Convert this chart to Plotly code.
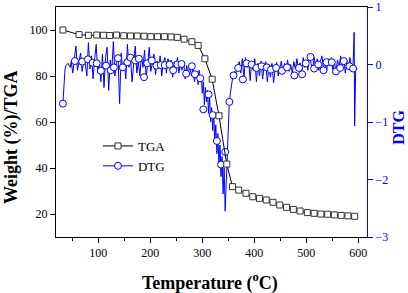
import plotly.graph_objects as go

# ---------------- data ----------------
tga_T = [32, 63, 81, 97, 110, 122, 135, 149, 162, 175, 188, 201, 214, 227, 240, 252,
         265, 280, 292, 305, 319, 332, 347, 358, 370, 384, 397, 410, 423, 436, 449,
         462, 475, 488, 502, 515, 528, 541, 554, 567, 580, 593]
tga_w = [100.0, 98.0, 97.7, 97.8, 97.7, 97.6, 97.8, 97.5, 97.4, 97.4, 97.3, 97.1, 97.1,
         97.1, 97.0, 96.8, 96.0, 94.9, 93.3, 87.5, 78.6, 62.7, 41.7, 31.9, 30.4, 29.0,
         27.5, 26.8, 26.1, 25.1, 23.9, 22.9, 22.0, 21.3, 20.6, 20.3, 20.0, 19.9, 19.6,
         19.4, 19.2, 19.0]

dtg_T = [32, 34, 36, 38, 40, 42, 44, 46,
         48, 51, 54, 57, 60, 63, 66, 69, 72, 75, 78, 81, 84, 87, 90, 93, 96, 99, 102,
         105, 108, 111, 114, 117, 120, 123, 126, 129, 132, 135, 138, 141, 144, 147, 150,
         153, 156, 159, 162, 165, 168, 171, 174, 177, 180, 183, 186, 189, 192, 195, 198,
         201, 204, 207, 210, 213, 216, 219, 222, 225, 228, 231, 234, 237, 240, 243, 246,
         249, 252, 255, 258, 261, 264, 267, 270, 273, 276, 279, 282, 285, 288,
         290, 292, 294, 296, 298, 300, 302, 304, 306, 308, 310, 312, 314, 316, 318, 320,
         322, 324, 326, 328, 330, 332, 334, 336, 338, 340, 342, 344, 346, 348, 350, 352,
         354, 356, 358, 360, 362, 364, 366, 368,
         371, 374, 377, 380, 383, 386, 389, 392, 395, 398, 401, 404, 407, 410, 413, 416,
         419, 422, 425, 428, 431, 434, 437, 440, 443, 446, 449, 452, 455, 458, 461, 464,
         467, 470, 473, 476, 479, 482, 485, 488, 491, 494, 497, 500, 503, 506, 509, 512,
         515, 518, 521, 524, 527, 530, 533, 536, 539, 542, 545, 548, 551, 554, 557, 560,
         563, 566, 569, 572, 575, 578, 581, 584, 587, 590, 592, 593, 595, 598]
dtg_v = [-0.68, -0.35, -0.08, -0.02, 0.00, 0.02, -0.02, -0.05,
         0.05, -0.15, 0.10, 0.32, -0.10, 0.05, 0.20, -0.12, 0.08, 0.02, -0.20, 0.38,
         -0.08, 0.15, -0.25, 0.10, 0.35, -0.15, 0.05, -0.30, 0.18, -0.40, 0.12, 0.30,
         -0.45, 0.08, -0.10, 0.40, -0.20, 0.05, 0.15, -0.68, 0.20, -0.10, 0.05, -0.25,
         0.35, -0.05, 0.12, -0.30, 0.10, 0.32, -0.15, 0.05, -0.20, 0.15, -0.05, 0.25,
         -0.25, 0.08, 0.30, -0.12, 0.02, 0.18, -0.18, 0.06, -0.05, 0.15, -0.20, 0.04,
         0.12, -0.15, 0.10, -0.05, 0.08, -0.22, 0.05, -0.08, 0.12, -0.15, 0.02, -0.10,
         0.06, -0.25, -0.02, -0.18, 0.00, -0.20, -0.08, -0.30, -0.12,
         -0.15, -0.35, -0.10, -0.30, -0.20, -0.50, -0.30, -0.70, -0.40, -0.65, -0.45,
         -0.85, -0.55, -1.00, -0.75, -1.15, -0.85, -1.35, -1.05, -1.55, -1.20, -1.75,
         -1.40, -1.95, -1.60, -2.25, -1.80, -2.55, -2.00, -1.60, -1.05, -0.65, -0.50,
         -0.35, -0.25, -0.19, -0.12, -0.20, -0.08, -0.05,
         0.05, -0.15, 0.10, -0.25, 0.12, -0.05, 0.08, -0.28, 0.05, -0.10, 0.10, -0.30,
         0.02, -0.20, 0.06, -0.25, -0.02, 0.05, -0.30, -0.05, -0.22, 0.02, -0.32, -0.08,
         0.04, -0.20, -0.05, 0.06, -0.15, 0.02, -0.10, 0.08, -0.12, 0.00, -0.15, 0.05,
         -0.08, 0.10, -0.10, 0.03, -0.14, 0.12, -0.05, 0.08, -0.10, 0.18, 0.02, -0.08,
         0.12, -0.05, 0.10, -0.10, 0.05, 0.15, -0.08, 0.08, -0.12, 0.10, -0.02, 0.12,
         -0.10, 0.05, -0.12, 0.08, -0.05, 0.15, -0.02, 0.10, -0.15, 0.05, -0.05, 0.12,
         -0.08, 0.02, 0.56, -1.07, -0.05, -0.08]

dtg_mark_T = [32, 55, 69, 80, 89, 97, 105, 115, 124, 130, 138, 147, 156, 162, 171, 178,
              188, 194, 203, 212, 220, 228, 237, 244, 252, 260, 269, 280, 286, 296, 302,
              312, 320, 328, 336, 344, 352, 360, 369, 378, 385, 395, 404, 414, 424, 432,
              442, 453, 463, 477, 486, 492, 499, 508, 515, 523, 533, 539, 549, 557, 565,
              572, 583, 590]
dtg_mark_v = [-0.68, 0.06, 0.05, 0.09, 0.03, 0.02, -0.11, -0.02, -0.10, -0.05, 0.11, -0.05,
              0.04, 0.12, 0.07, 0.10, -0.22, 0.02, 0.07, -0.02, -0.01, -0.01, 0.00, -0.10,
              0.00, 0.01, -0.16, -0.03, -0.17, -0.24, -0.78, -0.52, -0.88, -1.33, -1.74,
              -1.52, -0.65, -0.19, -0.06, -0.26, 0.02, 0.00, -0.06, -0.03, -0.05, -0.09,
              -0.06, -0.11, -0.05, -0.19, -0.06, -0.17, 0.02, 0.13, -0.07, 0.00, -0.10,
              0.04, 0.04, -0.12, -0.06, 0.06, -0.03, -0.07]

x_ticks = [100, 200, 300, 400, 500, 600]
w_ticks = [20, 40, 60, 80, 100]
d_ticks = [-3, -2, -1, 0, 1]

BLUE = "#0000FF"
FONT = "Liberation Serif"

fig = go.Figure()

# DTG on base axis (drawn underneath), TGA on overlaying axis (drawn on top)
fig.add_trace(go.Scatter(x=dtg_T, y=dtg_v, mode="lines", line=dict(color=BLUE, width=1),
                         yaxis="y", showlegend=False, hoverinfo="skip"))
fig.add_trace(go.Scatter(x=dtg_mark_T, y=dtg_mark_v, mode="markers",
                         marker=dict(symbol="circle", size=7, color="white",
                                     line=dict(color=BLUE, width=1)),
                         yaxis="y", showlegend=False))
fig.add_trace(go.Scatter(x=tga_T, y=tga_w, mode="lines+markers", name="TGA",
                         line=dict(color="black", width=1),
                         marker=dict(symbol="square", size=6, color="white",
                                     line=dict(color="#333333", width=1)),
                         yaxis="y2", legendrank=1))
fig.add_trace(go.Scatter(x=[None], y=[None], mode="lines+markers", name="DTG",
                         line=dict(color=BLUE, width=1),
                         marker=dict(symbol="circle", size=7, color="white",
                                     line=dict(color=BLUE, width=1)),
                         yaxis="y", legendrank=2))

fig.update_layout(
    width=408, height=293,
    margin=dict(l=56, r=41, t=7, b=56, autoexpand=False),
    plot_bgcolor="white", paper_bgcolor="white",
    font=dict(family=FONT, size=12, color="black"),
    xaxis=dict(range=[18.7, 616.7], tickvals=x_ticks, ticks="outside", ticklen=5,
               tickwidth=1, tickcolor="black", showline=True, linecolor="black",
               linewidth=1, mirror=True, showgrid=False, zeroline=False,
               minor=dict(ticks="outside", ticklen=3, dtick=50, tick0=0,
                          tickcolor="black", showgrid=False),
               tickfont=dict(size=12, family=FONT)),
    yaxis=dict(range=[-3, 1], tickvals=d_ticks, side="right", ticks="outside",
               ticklen=5, tickcolor=BLUE, showline=True, linecolor=BLUE, linewidth=1,
               showgrid=False, zeroline=False,
               tickfont=dict(size=12, family=FONT, color=BLUE)),
    yaxis2=dict(range=[10, 110], tickvals=w_ticks, side="left", overlaying="y",
                ticks="outside", ticklen=5, tickcolor="black", showline=True,
                linecolor="black", linewidth=1, showgrid=False, zeroline=False,
                tickfont=dict(size=12, family=FONT)),
    legend=dict(x=0.135, y=0.461, xanchor="left", yanchor="top",
                bgcolor="rgba(0,0,0,0)", font=dict(size=13, family=FONT),
                tracegroupgap=0, itemwidth=30),
    annotations=[
        dict(text="<b>Weight (%)/TGA</b>", xref="paper", yref="paper", x=-0.1415,
             y=0.435, xanchor="center", yanchor="middle", textangle=-90,
             showarrow=False, font=dict(size=18, family=FONT)),
        dict(text="<b>Temperature (<sup>o</sup>C)</b>", xref="paper", yref="paper",
             x=0.495, y=-0.196, xanchor="center", yanchor="middle",
             showarrow=False, font=dict(size=18, family=FONT)),
        dict(text="<b>DTG</b>", xref="paper", yref="paper", x=1.099, y=0.478,
             xanchor="center", yanchor="middle", textangle=-90, showarrow=False,
             font=dict(size=16, family=FONT, color=BLUE)),
    ],
)

fig.write_html("out.html", config={"displayModeBar": False},
               post_script="document.body.style.margin='0';")
